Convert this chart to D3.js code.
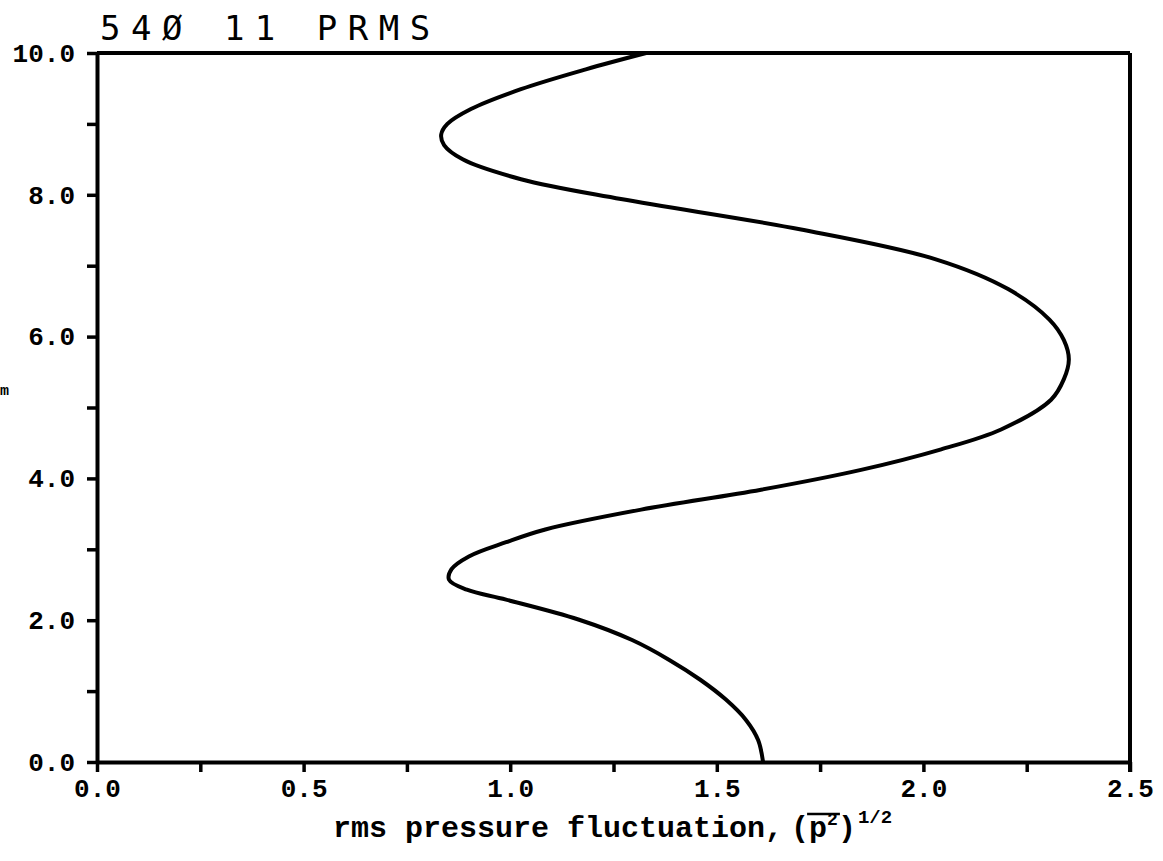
<!DOCTYPE html>
<html>
<head>
<meta charset="utf-8">
<script src="https://cdn.jsdelivr.net/npm/d3@7"></script>
<style>
  body { margin: 0; background: #fff; }
  svg { display: block; }
</style>
</head>
<body>
<div id="chart"></div>
<script>
// depth values (vertical axis) and rms pressure (horizontal axis)
var depth = [0.0, 0.31, 0.59, 0.88, 1.16, 1.44, 1.72, 2.01, 2.29, 2.43, 2.57, 2.72, 2.90, 3.10, 3.28, 3.56, 3.84, 4.12, 4.41, 4.69, 5.11, 5.40, 5.68, 5.95, 6.24, 6.67, 7.09, 7.51, 7.94, 8.22, 8.50, 8.70, 8.85, 9.00, 9.21, 9.49, 9.77, 10.0];
var prms  = [1.612, 1.600, 1.571, 1.522, 1.460, 1.385, 1.295, 1.165, 0.990, 0.895, 0.852, 0.858, 0.900, 0.990, 1.085, 1.317, 1.607, 1.849, 2.043, 2.188, 2.309, 2.340, 2.352, 2.340, 2.305, 2.205, 2.030, 1.704, 1.268, 1.026, 0.885, 0.840, 0.833, 0.848, 0.905, 1.026, 1.183, 1.329];

var xTicks = [0, 0.25, 0.5, 0.75, 1.0, 1.25, 1.5, 1.75, 2.0, 2.25, 2.5];
var yTicks = [0, 1, 2, 3, 4, 5, 6, 7, 8, 9, 10];
var xLabelled = [0, 0.5, 1.0, 1.5, 2.0, 2.5];
var yLabelled = [0, 2, 4, 6, 8, 10];

var title = "54\u00D8 11 PRMS";

var W = 1163, H = 861;
var margin = {top: 53, right: 33, bottom: 99, left: 97};

var svg = d3.select("#chart").append("svg")
    .attr("width", W)
    .attr("height", H)
    .style("background", "#fff");

var x = d3.scaleLinear().domain([0, 2.5]).range([margin.left, W - margin.right]);
var y = d3.scaleLinear().domain([0, 10]).range([H - margin.bottom, margin.top]);

var tickFont = "'Liberation Mono', 'Courier New', monospace";

//bottom axis
var xAxis = svg.append("g")
    .attr("transform", "translate(0," + y(0) + ")")
    .call(d3.axisBottom(x)
        .tickValues(xTicks)
        .tickSize(10)
        .tickSizeOuter(0)
        .tickPadding(7)
        .tickFormat(function(d) { return xLabelled.indexOf(d) >= 0 ? d3.format(".1f")(d) : ""; }));

//left axis
var yAxis = svg.append("g")
    .attr("transform", "translate(" + x(0) + ",0)")
    .call(d3.axisLeft(y)
        .tickValues(yTicks)
        .tickSize(10)
        .tickSizeOuter(0)
        .tickPadding(12)
        .tickFormat(function(d) { return yLabelled.indexOf(d) >= 0 ? d3.format(".1f")(d) : ""; }));

[xAxis, yAxis].forEach(function(a) {
    a.select(".domain").attr("stroke", "#000").attr("stroke-width", 4);
    a.selectAll(".tick line").attr("stroke", "#000").attr("stroke-width", 3.5);
    a.selectAll(".tick text")
        .attr("fill", "#000")
        .style("font-family", tickFont)
        .style("font-weight", "bold")
        .style("font-size", "26px");
});

//frame: top and right
svg.append("line")
    .attr("x1", x(0)).attr("x2", x(2.5))
    .attr("y1", y(10)).attr("y2", y(10))
    .attr("stroke", "#000").attr("stroke-width", 4);
svg.append("line")
    .attr("x1", x(2.5)).attr("x2", x(2.5))
    .attr("y1", y(10)).attr("y2", y(0) + 10)
    .attr("stroke", "#000").attr("stroke-width", 4);

//curve
var pts = depth.map(function(d, i) { return {depth: d, p: prms[i]}; });
var line = d3.line()
    .curve(d3.curveCatmullRom.alpha(0.5))
    .x(function(d) { return x(d.p); })
    .y(function(d) { return y(d.depth); });

svg.append("path")
    .datum(pts)
    .attr("d", line)
    .attr("fill", "none")
    .attr("stroke", "#000")
    .attr("stroke-width", 4);

//title
svg.append("text")
    .attr("x", 100)
    .attr("y", 40)
    .style("font-family", "'DejaVu Sans Mono', monospace")
    .style("font-size", "34px")
    .style("letter-spacing", "10.5px")
    .attr("fill", "#000")
    .text(title);

//y label at the page edge
svg.append("text")
    .attr("x", 0)
    .attr("y", 395)
    .style("font-family", tickFont)
    .style("font-weight", "bold")
    .style("font-size", "15px")
    .text("m");

//x axis title, built piece by piece
var xt = 333, base = 837;
function piece(str, size, dy) {
    var t = svg.append("text")
        .attr("x", xt)
        .attr("y", base + (dy || 0))
        .style("font-family", tickFont)
        .style("font-weight", "bold")
        .style("font-size", size + "px")
        .attr("fill", "#000")
        .text(str);
    var w = t.node().getComputedTextLength();
    var start = xt;
    xt += w;
    return {start: start, end: xt};
}
piece("rms pressure fluctuation,", 30);
xt += 8;
piece("(", 30);
var pStart = piece("p", 30).start;
var sq = piece("2", 18, -12);
piece(")", 30);
xt += 2;
piece("1/2", 19, -14);

svg.append("line")
    .attr("x1", pStart - 2).attr("x2", sq.end + 2)
    .attr("y1", base - 23).attr("y2", base - 23)
    .attr("stroke", "#000").attr("stroke-width", 2.5);
</script>
</body>
</html>
